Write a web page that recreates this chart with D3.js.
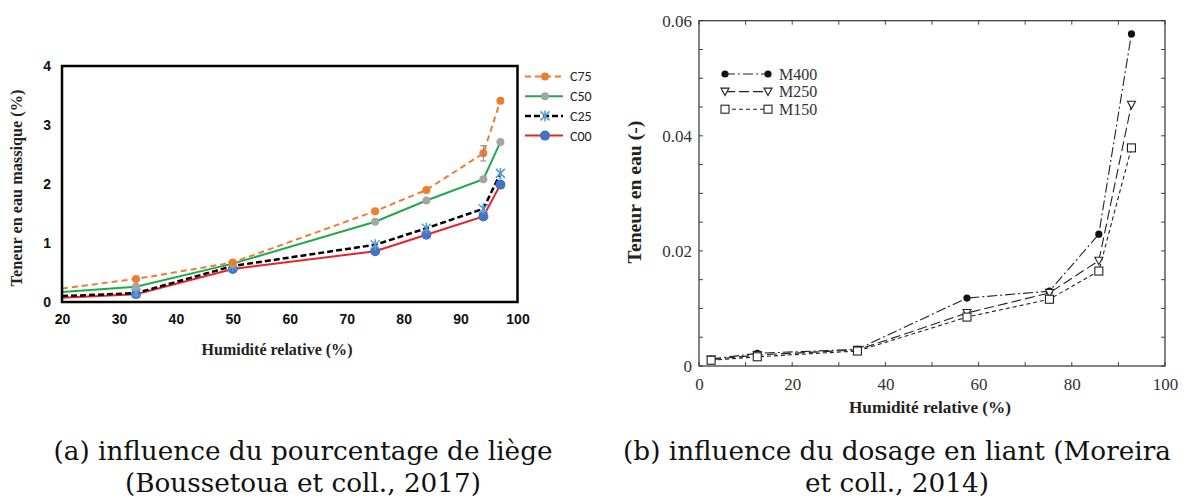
<!DOCTYPE html>
<html><head><meta charset="utf-8">
<script src="https://cdn.jsdelivr.net/npm/d3@7"></script>
<style>body{margin:0;background:#fff}svg{display:block}</style>
</head><body>
<svg id="c" width="1186" height="500"></svg>
<script>
// ---------- Data: chart (a) ----------
const rhA = [20, 33, 50, 75, 84, 94, 97];
const c75 = [0.23, 0.39, 0.67, 1.54, 1.90, 2.52, 3.41];
const c50 = [0.17, 0.26, 0.65, 1.36, 1.72, 2.08, 2.71];
const c25 = [0.10, 0.15, 0.61, 0.97, 1.25, 1.58, 2.18];
const c00 = [0.07, 0.13, 0.56, 0.86, 1.14, 1.45, 1.99];
const c75Err = [0, 0, 0, 0, 0, 0.13, 0];
const namesA = ["C75", "C50", "C25", "C00"];
const xTicksA = [20, 30, 40, 50, 60, 70, 80, 90, 100];
const yTicksA = [0, 1, 2, 3, 4];

// ---------- Data: chart (b) ----------
const rhB = [2.6, 12.5, 34, 57.5, 75.2, 85.8, 92.8];
const m400 = [0.0012, 0.0022, 0.0029, 0.0118, 0.0130, 0.0229, 0.0577];
const m250 = [0.0011, 0.0019, 0.0028, 0.0092, 0.0127, 0.0183, 0.0454];
const m150 = [0.0010, 0.0016, 0.0026, 0.0085, 0.0116, 0.0165, 0.0379];
const namesB = ["M400", "M250", "M150"];
const xTicksB = [0, 20, 40, 60, 80, 100];
const yTicksB = [0, 0.02, 0.04, 0.06];

const svg = d3.select("#c");
const SERIF = "'Liberation Serif','DejaVu Serif',serif";
const CAPSERIF = "'DejaVu Serif','Liberation Serif',serif";
const SANS = "'Liberation Sans',Arial,sans-serif";

function fit(sel, w) {
  const n = sel.node();
  const fs = parseFloat(sel.attr("font-size"));
  const len = n.getComputedTextLength();
  sel.attr("font-size", (fs * w / len).toFixed(2));
}

// ================= Chart (a) =================
const xa = d3.scaleLinear().domain([20, 100]).range([62, 517.5]);
const ya = d3.scaleLinear().domain([0, 4]).range([302, 66]);
const ga = svg.append("g");

ga.append("defs").append("clipPath").attr("id", "clipA")
  .append("rect").attr("x", 62).attr("y", 60).attr("width", 456).attr("height", 243);

const axA = ga.append("g").attr("transform", "translate(0,302)")
  .call(d3.axisBottom(xa).tickValues(xTicksA).tickSize(0).tickPadding(12).tickFormat(d3.format("d")));
axA.select(".domain").remove();
axA.selectAll("text").attr("font-family", SANS).attr("font-weight", "bold")
  .attr("font-size", 14).attr("fill", "#111");
const ayA = ga.append("g").attr("transform", "translate(62,0)")
  .call(d3.axisLeft(ya).tickValues(yTicksA).tickSize(0).tickPadding(11).tickFormat(d3.format("d")));
ayA.select(".domain").remove();
ayA.selectAll("text").attr("font-family", SANS).attr("font-weight", "bold")
  .attr("font-size", 14).attr("fill", "#111");

const seriesA = [
  {name: "C75", vals: c75, line: "#ED7D31", dash: "6,4", w: 2, mk: "circle", mfill: "#ED7D31", r: 4},
  {name: "C50", vals: c50, line: "#1FAA4A", dash: null, w: 2, mk: "circle", mfill: "#A5A5A5", r: 4},
  {name: "C25", vals: c25, line: "#000", dash: "6,3", w: 2.5, mk: "star", mfill: "#5B9BD5", r: 4.5},
  {name: "C00", vals: c00, line: "#E8232B", dash: null, w: 2, mk: "circle", mfill: "#4472C4", r: 5}
];
const lineA = d3.line().x(d => xa(d[0])).y(d => ya(d[1]));
const plotA = ga.append("g").attr("clip-path", "url(#clipA)");

function drawMarker(g, s, cx, cy) {
  if (s.mk === "circle") {
    g.append("circle").attr("cx", cx).attr("cy", cy).attr("r", s.r).attr("fill", s.mfill);
  } else {
    const r = s.r;
    g.append("path")
      .attr("d", `M${cx - r},${cy - r}L${cx + r},${cy + r}M${cx - r},${cy + r}L${cx + r},${cy - r}M${cx},${cy - r - 1}L${cx},${cy + r + 1}`)
      .attr("stroke", s.mfill).attr("stroke-width", 1.6).attr("fill", "none");
  }
}

seriesA.slice().reverse().forEach(s => {
  const pts = rhA.map((x, i) => [x, s.vals[i]]);
  plotA.append("path").attr("d", lineA(pts)).attr("fill", "none")
    .attr("stroke", s.line).attr("stroke-width", s.w)
    .attr("stroke-dasharray", s.dash);
});
seriesA.slice().reverse().forEach(s => {
  rhA.forEach((x, i) => {
    if (x <= 20) return;
    drawMarker(plotA, s, xa(x), ya(s.vals[i]));
  });
});
rhA.forEach((x, i) => {
  const e = c75Err[i];
  if (!e) return;
  const cx = xa(x), y1 = ya(c75[i] + e), y2 = ya(c75[i] - e);
  plotA.append("path")
    .attr("d", `M${cx},${y1}L${cx},${y2}M${cx - 3},${y1}L${cx + 3},${y1}M${cx - 3},${y2}L${cx + 3},${y2}`)
    .attr("stroke", "#888").attr("stroke-width", 1).attr("fill", "none");
});

ga.append("rect").attr("x", 62).attr("y", 66).attr("width", 455.5).attr("height", 236)
  .attr("fill", "none").attr("stroke", "#000").attr("stroke-width", 2.5);

const xtA = ga.append("text").attr("x", 277).attr("y", 355).attr("text-anchor", "middle")
  .attr("font-family", SERIF).attr("font-weight", "bold").attr("font-size", 14)
  .attr("fill", "#222").text("Humidité relative (%)");
fit(xtA, 151);
const ytA = ga.append("text").attr("transform", "translate(22,188) rotate(-90)")
  .attr("text-anchor", "middle")
  .attr("font-family", SERIF).attr("font-weight", "bold").attr("font-size", 14)
  .attr("fill", "#222").text("Teneur en eau massique (%)");
fit(ytA, 197);

const legA = ga.append("g");
seriesA.forEach((s, i) => {
  const y = 76.5 + i * 19.7;
  legA.append("line").attr("x1", 525).attr("x2", 563).attr("y1", y).attr("y2", y)
    .attr("stroke", s.line).attr("stroke-width", s.w).attr("stroke-dasharray", s.dash);
  drawMarker(legA, s, 545, y);
  legA.append("text").attr("x", 570).attr("y", y).attr("dy", "0.35em")
    .attr("font-family", "Carlito, Lato, 'Open Sans', sans-serif").attr("font-size", 14)
    .attr("fill", "#222").text(s.name);
});

// ================= Chart (b) =================
const xb = d3.scaleLinear().domain([0, 100]).range([699, 1165]);
const yb = d3.scaleLinear().domain([0, 0.06]).range([366, 20.7]);
const gb = svg.append("g");

const xMinor = d3.range(0, 101, 10);
const yMinor = d3.range(0, 0.0601, 0.005);
const tickG = gb.append("g").attr("stroke", "#444").attr("stroke-width", 1);
xMinor.forEach(v => {
  tickG.append("line").attr("x1", xb(v)).attr("x2", xb(v)).attr("y1", 366).attr("y2", 362);
  tickG.append("line").attr("x1", xb(v)).attr("x2", xb(v)).attr("y1", 20.7).attr("y2", 24.7);
});
yMinor.forEach(v => {
  tickG.append("line").attr("x1", 699).attr("x2", 703).attr("y1", yb(v)).attr("y2", yb(v));
  tickG.append("line").attr("x1", 1165).attr("x2", 1161).attr("y1", yb(v)).attr("y2", yb(v));
});

const axB = gb.append("g").attr("transform", "translate(0,366)")
  .call(d3.axisBottom(xb).tickValues(xTicksB).tickSize(0).tickPadding(12).tickFormat(d3.format("d")));
axB.select(".domain").remove();
axB.selectAll("text").attr("font-family", SERIF).attr("font-size", 17).attr("fill", "#333");
const ayB = gb.append("g").attr("transform", "translate(699,0)")
  .call(d3.axisLeft(yb).tickValues(yTicksB).tickSize(0).tickPadding(7)
    .tickFormat(d => d === 0 ? "0" : d3.format(".2f")(d)));
ayB.select(".domain").remove();
ayB.selectAll("text").attr("font-family", SERIF).attr("font-size", 17).attr("fill", "#333");

const seriesB = [
  {name: "M400", vals: m400, dash: "10,3,2,3", mk: "dot"},
  {name: "M250", vals: m250, dash: "10,4", mk: "tri"},
  {name: "M150", vals: m150, dash: "4,3", mk: "sq"}
];
const lineB = d3.line().x(d => xb(d[0])).y(d => yb(d[1]));
function drawMarkerB(g, s, cx, cy) {
  if (s.mk === "dot") {
    g.append("circle").attr("cx", cx).attr("cy", cy).attr("r", 3.6).attr("fill", "#111");
  } else if (s.mk === "tri") {
    g.append("path").attr("d", `M${cx - 4},${cy - 3.5}L${cx + 4},${cy - 3.5}L${cx},${cy + 4}Z`)
      .attr("fill", "#fff").attr("stroke", "#222").attr("stroke-width", 1.1);
  } else {
    g.append("rect").attr("x", cx - 4).attr("y", cy - 4).attr("width", 8).attr("height", 8)
      .attr("fill", "#fff").attr("stroke", "#222").attr("stroke-width", 1.1);
  }
}
seriesB.forEach(s => {
  const pts = rhB.map((x, i) => [x, s.vals[i]]);
  gb.append("path").attr("d", lineB(pts)).attr("fill", "none")
    .attr("stroke", "#222").attr("stroke-width", 1.1).attr("stroke-dasharray", s.dash);
});
seriesB.forEach(s => {
  rhB.forEach((x, i) => drawMarkerB(gb, s, xb(x), yb(s.vals[i])));
});

gb.append("rect").attr("x", 699).attr("y", 20.7).attr("width", 466).attr("height", 345.3)
  .attr("fill", "none").attr("stroke", "#333").attr("stroke-width", 1.2);

seriesB.forEach((s, i) => {
  const y = 74 + i * 17.6;
  gb.append("line").attr("x1", 725).attr("x2", 768).attr("y1", y).attr("y2", y)
    .attr("stroke", "#222").attr("stroke-width", 1.1).attr("stroke-dasharray", s.dash);
  drawMarkerB(gb, s, 725, y);
  drawMarkerB(gb, s, 768, y);
  gb.append("text").attr("x", 779).attr("y", y).attr("dy", "0.35em")
    .attr("font-family", SERIF).attr("font-size", 16).attr("fill", "#333").text(s.name);
});

const xtB = gb.append("text").attr("x", 930).attr("y", 413).attr("text-anchor", "middle")
  .attr("font-family", SERIF).attr("font-weight", "bold").attr("font-size", 14)
  .attr("fill", "#222").text("Humidité relative (%)");
fit(xtB, 162);
const ytB = gb.append("text").attr("transform", "translate(641,192) rotate(-90)")
  .attr("text-anchor", "middle")
  .attr("font-family", SERIF).attr("font-weight", "bold").attr("font-size", 14)
  .attr("fill", "#222").text("Teneur en eau (-)");
fit(ytB, 143);

// ================= Captions =================
const capStyle = t => t.attr("text-anchor", "middle").attr("font-family", CAPSERIF)
  .attr("fill", "#111");
const cb1 = svg.append("text").attr("x", 897).attr("y", 459.5).attr("font-size", 24)
  .call(capStyle).text("(b) influence du dosage en liant (Moreira");
fit(cb1, 548);
const capFs = Math.min(parseFloat(cb1.attr("font-size")), 26.5);
cb1.attr("font-size", capFs);
svg.append("text").attr("x", 897).attr("y", 491.5).attr("font-size", capFs).call(capStyle)
  .text("et coll., 2014)");
svg.append("text").attr("x", 303).attr("y", 459.5).attr("font-size", capFs).call(capStyle)
  .text("(a) influence du pourcentage de liège");
svg.append("text").attr("x", 303).attr("y", 491.5).attr("font-size", capFs).call(capStyle)
  .text("(Boussetoua et coll., 2017)");
</script>
</body></html>
